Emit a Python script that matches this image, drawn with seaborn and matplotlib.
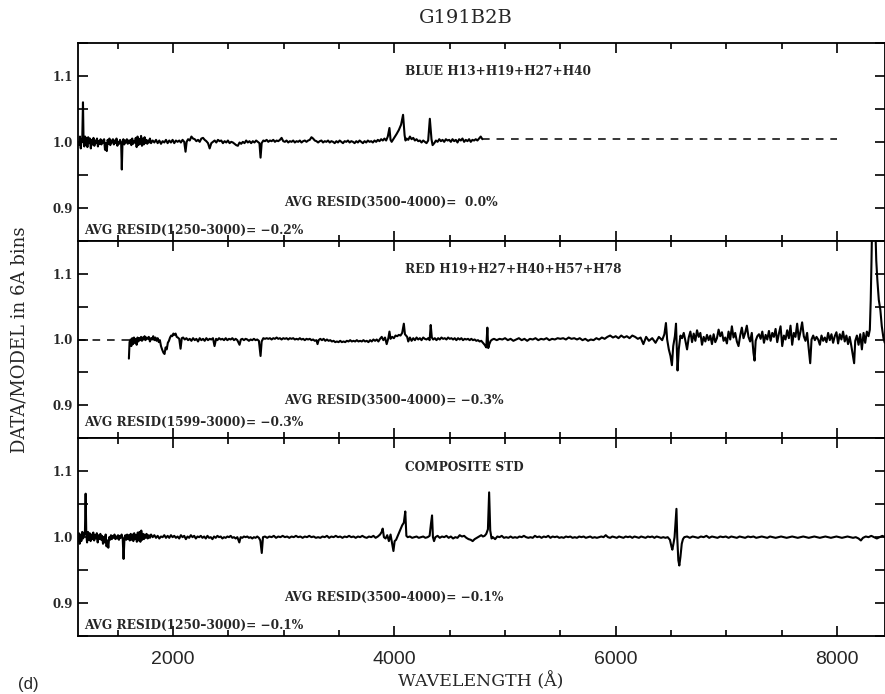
import matplotlib
matplotlib.use("Agg")
import matplotlib.pyplot as plt
from matplotlib.ticker import MultipleLocator, FormatStrFormatter
import pandas as pd
import seaborn as sns

# ---------------------------------------------------------------- data
# BLUE H13+H19+H27+H40 : DATA/MODEL ratio in 6A bins
blue_wave = [
    1150, 1158, 1165, 1172, 1178, 1185, 1190, 1197, 1204, 1211, 1218, 1225, 1232, 1240, 1248, 1256,
    1264, 1272, 1280, 1288, 1296, 1304, 1312, 1320, 1328, 1336, 1344, 1352, 1360, 1368, 1376, 1384,
    1392, 1400, 1408, 1416, 1424, 1432, 1440, 1448, 1456, 1464, 1472, 1480, 1488, 1496, 1504, 1512,
    1520, 1530, 1536, 1542, 1550, 1558, 1566, 1574, 1582, 1590, 1598, 1606, 1614, 1622, 1630, 1638,
    1646, 1654, 1662, 1670, 1678, 1686, 1694, 1702, 1710, 1718, 1726, 1734, 1742, 1750, 1758, 1766,
    1774, 1782, 1790, 1800, 1815, 1830, 1845, 1860, 1875, 1890, 1905, 1920, 1935, 1950, 1965, 1980,
    1995, 2010, 2025, 2040, 2055, 2070, 2085, 2100, 2112, 2122, 2135, 2150, 2165, 2180, 2195, 2210,
    2225, 2240, 2255, 2270, 2285, 2300, 2315, 2330, 2345, 2360, 2375, 2390, 2405, 2420, 2435, 2450,
    2465, 2480, 2495, 2510, 2525, 2540, 2555, 2570, 2585, 2600, 2615, 2630, 2645, 2660, 2675, 2690,
    2705, 2720, 2735, 2750, 2765, 2780, 2790, 2800, 2815, 2830, 2845, 2860, 2875, 2890, 2905, 2920,
    2935, 2950, 2965, 2980, 2995, 3010, 3025, 3040, 3055, 3070, 3085, 3100, 3115, 3130, 3145, 3160,
    3175, 3190, 3205, 3220, 3235, 3250, 3265, 3280, 3295, 3310, 3325, 3340, 3355, 3370, 3385, 3400,
    3415, 3430, 3445, 3460, 3475, 3490, 3505, 3520, 3535, 3550, 3565, 3580, 3595, 3610, 3625, 3640,
    3655, 3670, 3685, 3700, 3715, 3730, 3745, 3760, 3775, 3790, 3805, 3820, 3835, 3850, 3865, 3880,
    3895, 3910, 3925, 3940, 3955, 3965, 3975, 3990, 4005, 4020, 4040, 4060, 4078, 4092, 4100, 4110,
    4125, 4140, 4155, 4170, 4185, 4200, 4215, 4230, 4245, 4260, 4275, 4290, 4305, 4320, 4335, 4345,
    4360, 4375, 4390, 4405, 4420, 4435, 4450, 4465, 4480, 4495, 4510, 4525, 4540, 4555, 4570, 4585,
    4600, 4615, 4630, 4645, 4660, 4675, 4690, 4705, 4720, 4735, 4750, 4765, 4780, 4795,
]
blue_ratio = [
    0.995, 1.008, 0.990, 1.004, 1.000, 1.060, 1.004, 0.993, 1.008, 0.996, 1.006, 0.992, 1.007, 0.998, 1.005, 0.990,
    1.003, 0.996, 1.006, 0.994, 1.002, 0.998, 1.005, 0.993, 1.001, 0.997, 1.004, 0.996, 1.002, 0.999, 1.004, 0.988,
    0.998, 0.986, 1.003, 0.997, 1.005, 0.995, 1.002, 0.999, 1.004, 0.996, 1.002, 0.998, 1.005, 0.994, 1.000, 0.997,
    1.003, 0.998, 0.958, 0.998, 1.004, 0.996, 1.002, 0.999, 1.004, 0.997, 1.002, 0.998, 1.003, 0.995, 1.005, 0.997,
    1.001, 0.999, 1.006, 0.992, 1.008, 0.995, 1.004, 0.997, 1.009, 0.994, 1.005, 0.996, 1.007, 0.998, 1.003, 0.997,
    1.002, 0.999, 1.005, 0.998, 1.002, 0.999, 1.003, 0.998, 1.002, 0.997, 1.001, 0.999, 1.003, 0.998, 1.002, 0.999,
    1.003, 0.998, 1.002, 1.000, 1.002, 0.999, 1.003, 1.000, 0.985, 1.000, 1.004, 1.002, 1.008, 1.005, 1.004, 1.001,
    1.003, 1.000, 1.005, 1.006, 1.003, 1.001, 0.998, 0.990, 0.998, 1.000, 1.002, 0.999, 1.003, 1.001, 1.002, 0.998,
    1.001, 0.999, 1.002, 0.998, 1.000, 0.999, 0.997, 0.995, 0.994, 0.999, 0.997, 1.000, 0.998, 1.002, 0.999, 1.001,
    0.998, 1.001, 0.999, 1.002, 1.000, 0.998, 0.976, 0.998, 1.002, 1.001, 1.003, 1.000, 1.002, 1.001, 1.003, 1.000,
    1.002, 1.001, 1.003, 1.006, 1.001, 1.000, 1.002, 0.999, 1.001, 1.000, 1.002, 0.999, 1.001, 1.000, 1.002, 0.999,
    1.001, 1.002, 1.000, 1.002, 1.003, 1.007, 1.005, 1.002, 1.001, 0.999, 1.001, 1.002, 0.999, 1.001, 1.000, 1.002,
    0.999, 1.001, 1.000, 0.998, 1.001, 0.999, 1.002, 1.000, 0.998, 1.001, 1.000, 1.002, 0.999, 1.001, 1.000, 0.998,
    1.001, 0.999, 1.002, 1.000, 0.998, 1.001, 0.999, 1.002, 1.000, 1.001, 0.999, 1.002, 1.000, 1.003, 1.001, 1.004,
    1.002, 1.005, 1.002, 1.008, 1.021, 1.003, 1.000, 1.004, 1.008, 1.012, 1.018, 1.026, 1.041, 1.010, 1.002, 1.005,
    1.003, 1.008, 1.004, 1.006, 1.002, 1.004, 1.001, 1.002, 0.999, 1.002, 1.000, 0.998, 1.002, 1.035, 1.004, 0.995,
    0.998, 1.002, 1.000, 1.004, 1.001, 1.003, 1.000, 1.004, 1.002, 1.003, 1.000, 1.004, 1.001, 1.003, 0.999, 1.004,
    1.002, 1.005, 1.000, 1.003, 1.001, 1.004, 1.000, 1.003, 1.002, 1.004, 1.002, 1.005, 1.008, 1.004,
]
blue_model_wave = [4795, 8000]
blue_model_ratio = [1.004, 1.004]

# RED H19+H27+H40+H57+H78
red_wave = [
    1600, 1606, 1614, 1622, 1630, 1638, 1646, 1654, 1662, 1670, 1678, 1686, 1694, 1702, 1710, 1718,
    1726, 1734, 1742, 1750, 1760, 1770, 1780, 1790, 1800, 1810, 1820, 1830, 1840, 1850, 1860, 1870,
    1880, 1890, 1900, 1912, 1922, 1932, 1942, 1952, 1962, 1972, 1982, 1992, 2002, 2012, 2022, 2032,
    2042, 2055, 2067, 2078, 2090, 2105, 2120, 2135, 2150, 2165, 2180, 2195, 2210, 2225, 2240, 2255,
    2270, 2285, 2300, 2315, 2330, 2345, 2360, 2374, 2388, 2400, 2415, 2430, 2445, 2460, 2475, 2490,
    2505, 2520, 2535, 2550, 2565, 2580, 2600, 2612, 2625, 2640, 2655, 2670, 2685, 2700, 2715, 2730,
    2745, 2760, 2775, 2790, 2800, 2815, 2830, 2845, 2860, 2875, 2890, 2905, 2920, 2935, 2950, 2965,
    2980, 2995, 3010, 3025, 3040, 3055, 3070, 3085, 3100, 3115, 3130, 3145, 3160, 3175, 3190, 3205,
    3220, 3235, 3250, 3265, 3280, 3295, 3305, 3315, 3330, 3345, 3360, 3375, 3390, 3405, 3420, 3435,
    3450, 3465, 3480, 3495, 3510, 3525, 3540, 3555, 3570, 3585, 3600, 3615, 3630, 3645, 3660, 3675,
    3690, 3705, 3720, 3735, 3750, 3765, 3780, 3795, 3810, 3825, 3840, 3855, 3870, 3885, 3900, 3915,
    3930, 3945, 3955, 3965, 3980, 3995, 4010, 4025, 4040, 4055, 4070, 4085, 4095, 4105, 4115, 4125,
    4140, 4155, 4170, 4185, 4200, 4215, 4230, 4245, 4260, 4275, 4290, 4305, 4318, 4328, 4338, 4350,
    4365, 4380, 4395, 4410, 4425, 4440, 4455, 4470, 4485, 4500, 4515, 4530, 4545, 4560, 4575, 4590,
    4605, 4620, 4635, 4650, 4665, 4680, 4695, 4710, 4725, 4740, 4755, 4770, 4785, 4800, 4815, 4830,
    4840, 4848, 4858, 4870, 4885, 4900, 4925, 4950, 4975, 5000, 5025, 5050, 5075, 5100, 5125, 5150,
    5175, 5200, 5225, 5250, 5275, 5300, 5325, 5350, 5375, 5400, 5425, 5450, 5475, 5500, 5525, 5550,
    5575, 5600, 5625, 5650, 5675, 5700, 5725, 5750, 5775, 5800, 5825, 5850, 5875, 5900, 5925, 5950,
    5975, 6000, 6025, 6050, 6075, 6100, 6125, 6150, 6175, 6200, 6225, 6250, 6275, 6300, 6330, 6360,
    6390, 6420, 6440, 6454, 6465, 6480, 6495, 6508, 6520, 6535, 6545, 6552, 6559, 6570, 6585, 6600,
    6615, 6630, 6645, 6660, 6675, 6690, 6705, 6720, 6735, 6750, 6765, 6780, 6795, 6810, 6825, 6840,
    6855, 6870, 6885, 6900, 6915, 6930, 6945, 6960, 6975, 6990, 7005, 7020, 7035, 7050, 7065, 7080,
    7095, 7110, 7125, 7140, 7155, 7170, 7185, 7200, 7215, 7230, 7245, 7255, 7265, 7280, 7295, 7310,
    7325, 7340, 7355, 7370, 7385, 7400, 7415, 7430, 7445, 7460, 7475, 7490, 7505, 7520, 7535, 7550,
    7565, 7580, 7595, 7610, 7625, 7640, 7655, 7670, 7685, 7700, 7715, 7730, 7745, 7758, 7770, 7785,
    7800, 7815, 7830, 7845, 7860, 7875, 7890, 7905, 7920, 7935, 7950, 7965, 7980, 7995, 8010, 8025,
    8040, 8055, 8070, 8085, 8100, 8115, 8130, 8145, 8155, 8165, 8180, 8195, 8210, 8225, 8240, 8255,
    8270, 8285, 8297, 8305, 8312, 8320, 8335, 8345, 8355, 8365, 8378, 8392, 8405, 8420, 8432,
]
red_ratio = [
    0.971, 0.996, 1.000, 0.990, 1.002, 0.993, 1.003, 0.995, 1.001, 0.992, 1.003, 0.997, 1.002, 0.999, 1.004, 0.998,
    1.003, 1.000, 1.005, 0.999, 1.003, 1.001, 1.004, 0.997, 1.002, 1.000, 1.005, 0.999, 1.003, 0.998, 1.002, 0.996,
    0.999, 0.990, 0.985, 0.980, 0.978, 0.988, 0.985, 0.995, 0.998, 1.003, 1.006, 1.005, 1.009, 1.007, 1.009, 1.004,
    1.003, 1.001, 0.986, 1.002, 1.003, 1.000, 1.002, 0.999, 1.001, 0.998, 1.002, 0.999, 1.001, 0.997, 1.002, 0.999,
    1.001, 0.998, 1.002, 0.999, 1.001, 1.000, 1.002, 0.990, 1.001, 0.999, 1.002, 1.000, 1.001, 0.999, 1.002, 0.999,
    1.001, 1.000, 1.002, 0.999, 1.001, 0.999, 0.992, 1.000, 1.001, 0.999, 1.001, 1.000, 0.998, 1.000, 0.999, 1.001,
    0.999, 1.000, 0.998, 0.975, 0.997, 1.002, 1.001, 1.002, 1.001, 1.002, 1.000, 1.002, 1.001, 1.003, 1.001, 1.002,
    1.000, 1.002, 1.001, 1.002, 1.000, 1.002, 1.001, 1.002, 1.000, 1.001, 1.000, 1.002, 1.000, 1.001, 0.999, 1.001,
    1.000, 1.001, 0.999, 1.000, 0.998, 0.999, 0.993, 0.999, 1.001, 0.999, 1.001, 0.998, 1.000, 0.998, 0.999, 0.997,
    0.998, 0.996, 0.997, 0.996, 0.998, 0.996, 0.997, 0.996, 0.998, 0.997, 0.999, 0.997, 0.998, 0.997, 0.999, 0.997,
    0.998, 0.997, 0.999, 0.997, 0.998, 0.996, 0.999, 0.997, 1.000, 0.998, 1.000, 0.997, 1.001, 1.004, 0.999, 1.003,
    0.993, 1.002, 1.012, 1.001, 1.004, 1.002, 1.006, 1.005, 1.007, 1.006, 1.010, 1.024, 1.008, 1.006, 1.004, 0.997,
    1.003, 0.998, 1.002, 0.999, 1.003, 1.000, 1.002, 0.999, 1.003, 1.001, 1.000, 1.002, 0.999, 1.022, 1.003, 1.000,
    1.002, 0.999, 1.002, 1.000, 1.003, 1.001, 1.002, 1.000, 1.003, 1.001, 1.002, 1.000, 1.002, 0.999, 1.002, 1.000,
    1.002, 0.999, 1.001, 1.000, 1.001, 0.999, 1.001, 0.999, 1.000, 0.998, 0.999, 0.997, 0.998, 0.995, 0.992, 0.988,
    1.018, 0.987, 0.993, 0.998, 1.000, 1.001, 0.999, 1.001, 1.000, 1.002, 0.999, 1.001, 0.998, 1.000, 1.002, 0.999,
    1.001, 0.998, 1.001, 1.000, 1.002, 0.999, 1.001, 1.000, 1.002, 0.999, 1.001, 1.000, 1.002, 1.001, 1.002, 1.000,
    1.003, 1.001, 1.002, 1.000, 1.002, 0.999, 1.001, 0.998, 1.000, 0.999, 1.002, 1.000, 1.003, 1.001, 1.004, 1.006,
    1.003, 1.005, 1.002, 1.006, 1.003, 1.005, 1.002, 1.006, 1.004, 1.001, 1.003, 0.993, 1.004, 0.998, 1.002, 0.995,
    1.004, 0.999, 1.008, 1.025, 1.000, 0.985, 0.975, 0.961, 0.990, 1.005, 1.024, 0.990, 0.953, 0.985, 1.006, 1.002,
    1.010, 0.998, 0.985, 1.003, 1.012, 0.996, 1.009, 0.998, 1.014, 1.004, 1.010, 0.992, 1.004, 0.997, 1.007, 0.999,
    1.006, 0.993, 1.008, 0.996, 1.002, 1.015, 1.005, 1.011, 0.998, 1.003, 0.994, 1.012, 1.000, 1.020, 1.003, 1.010,
    0.997, 0.990, 1.006, 1.018, 1.002, 1.010, 1.021, 1.004, 0.997, 1.010, 0.980, 0.968, 0.998, 1.005, 1.008, 1.001,
    1.012, 0.995, 1.007, 1.000, 1.013, 0.998, 1.010, 1.004, 1.016, 0.996, 1.009, 1.020, 0.990, 1.006, 1.000, 1.014,
    1.002, 1.021, 0.992, 1.010, 1.004, 1.024, 1.000, 1.012, 1.026, 1.005, 0.998, 1.010, 0.985, 0.964, 1.000, 1.006,
    0.999, 1.004, 1.000, 0.992, 1.006, 0.998, 1.003, 0.996, 1.010, 0.999, 1.008, 0.995, 1.005, 1.011, 0.994, 1.008,
    1.000, 1.012, 0.997, 1.006, 0.993, 1.004, 0.990, 0.974, 0.964, 0.998, 1.006, 0.992, 1.008, 0.985, 1.010, 0.995,
    1.012, 1.005, 1.015, 1.060, 1.120, 1.200, 1.210, 1.180, 1.120, 1.090, 1.060, 1.045, 1.020, 1.002, 0.995,
]
red_model_wave = [1140, 1600]
red_model_ratio = [1.000, 1.000]

# COMPOSITE STD
comp_wave = [
    1140, 1148, 1155, 1162, 1170, 1178, 1186, 1195, 1203, 1209, 1215, 1222, 1230, 1238, 1246, 1254,
    1262, 1270, 1278, 1286, 1294, 1302, 1310, 1318, 1326, 1334, 1342, 1350, 1358, 1366, 1374, 1382,
    1390, 1398, 1406, 1414, 1422, 1430, 1438, 1446, 1454, 1462, 1470, 1478, 1486, 1494, 1502, 1510,
    1518, 1526, 1534, 1544, 1552, 1560, 1568, 1576, 1584, 1592, 1600, 1608, 1616, 1624, 1632, 1640,
    1648, 1656, 1664, 1672, 1680, 1688, 1696, 1704, 1712, 1720, 1728, 1736, 1744, 1752, 1760, 1770,
    1780, 1790, 1800, 1815, 1830, 1845, 1860, 1875, 1890, 1905, 1920, 1935, 1950, 1965, 1980, 1995,
    2010, 2025, 2040, 2055, 2070, 2085, 2100, 2115, 2130, 2145, 2160, 2175, 2190, 2205, 2220, 2235,
    2250, 2265, 2280, 2295, 2310, 2325, 2340, 2355, 2370, 2385, 2400, 2415, 2430, 2445, 2460, 2475,
    2490, 2505, 2520, 2535, 2550, 2565, 2580, 2598, 2610, 2625, 2640, 2655, 2670, 2685, 2700, 2715,
    2730, 2745, 2760, 2775, 2788, 2801, 2812, 2830, 2850, 2870, 2890, 2910, 2930, 2950, 2970, 2990,
    3010, 3030, 3050, 3070, 3090, 3110, 3130, 3150, 3170, 3190, 3210, 3230, 3250, 3270, 3290, 3310,
    3330, 3350, 3370, 3390, 3410, 3430, 3450, 3470, 3490, 3510, 3530, 3550, 3570, 3590, 3610, 3630,
    3650, 3670, 3690, 3710, 3730, 3750, 3770, 3790, 3810, 3830, 3850, 3870, 3885, 3894, 3905, 3920,
    3935, 3950, 3965, 3980, 3991, 4002, 4015, 4030, 4050, 4070, 4085, 4098, 4108, 4120, 4140, 4160,
    4180, 4200, 4220, 4240, 4260, 4280, 4300, 4318, 4330, 4340, 4348, 4358, 4370, 4390, 4410, 4430,
    4450, 4470, 4490, 4510, 4530, 4550, 4570, 4590, 4610, 4630, 4650, 4670, 4690, 4707, 4725, 4745,
    4765, 4785, 4800, 4815, 4830, 4845, 4856, 4866, 4878, 4890, 4910, 4930, 4950, 4970, 4990, 5010,
    5030, 5050, 5070, 5090, 5110, 5130, 5150, 5170, 5190, 5210, 5230, 5250, 5270, 5290, 5310, 5330,
    5350, 5370, 5390, 5410, 5430, 5450, 5470, 5490, 5510, 5530, 5550, 5570, 5590, 5610, 5630, 5650,
    5670, 5690, 5710, 5730, 5750, 5770, 5790, 5810, 5830, 5850, 5870, 5890, 5910, 5930, 5950, 5970,
    5990, 6010, 6030, 6050, 6070, 6090, 6110, 6130, 6150, 6170, 6190, 6210, 6230, 6250, 6270, 6290,
    6310, 6330, 6350, 6370, 6390, 6410, 6430, 6450, 6470, 6490, 6505, 6512, 6522, 6532, 6540, 6549,
    6556, 6566, 6575, 6585, 6597, 6608, 6620, 6645, 6670, 6695, 6720, 6745, 6770, 6795, 6820, 6845,
    6870, 6895, 6920, 6945, 6970, 6995, 7020, 7045, 7070, 7095, 7120, 7145, 7170, 7195, 7220, 7245,
    7270, 7295, 7320, 7345, 7370, 7395, 7420, 7445, 7470, 7495, 7520, 7545, 7570, 7595, 7620, 7645,
    7670, 7695, 7720, 7745, 7770, 7795, 7820, 7845, 7870, 7895, 7920, 7945, 7970, 7995, 8020, 8045,
    8070, 8095, 8120, 8145, 8170, 8195, 8216, 8235, 8260, 8285, 8310, 8335, 8360, 8385, 8410, 8435,
]
comp_ratio = [
    0.995, 1.006, 0.990, 1.004, 0.994, 1.008, 0.998, 1.003, 1.010, 1.066, 1.004, 0.992, 1.008, 0.996, 1.006, 0.994,
    1.004, 0.997, 1.007, 0.995, 1.003, 0.998, 1.006, 0.992, 1.003, 0.997, 1.005, 0.996, 1.002, 0.990, 1.000, 0.992,
    1.004, 0.986, 0.995, 0.984, 1.000, 0.996, 1.003, 0.997, 1.002, 0.999, 1.004, 0.997, 1.001, 0.998, 1.003, 0.996,
    1.002, 0.999, 1.004, 0.998, 0.967, 0.998, 1.003, 0.996, 1.004, 0.997, 1.003, 0.995, 1.005, 0.996, 1.004, 0.994,
    1.006, 0.997, 1.003, 0.993, 1.007, 0.995, 1.008, 0.993, 1.010, 0.996, 1.005, 0.997, 1.004, 0.999, 1.005, 0.998,
    1.003, 0.999, 1.004, 1.000, 1.003, 0.999, 1.002, 0.998, 1.001, 1.000, 1.003, 0.999, 1.002, 0.999, 1.003, 1.000,
    1.002, 0.999, 1.001, 0.998, 1.003, 1.000, 1.002, 0.997, 1.001, 0.999, 1.003, 1.000, 1.002, 0.998, 1.001, 1.000,
    1.002, 0.999, 1.001, 0.998, 1.002, 0.999, 1.000, 0.997, 1.001, 0.999, 1.002, 1.000, 1.001, 0.998, 1.000, 0.999,
    1.001, 1.000, 1.002, 0.999, 1.000, 0.998, 1.000, 0.992, 1.000, 0.999, 1.001, 1.000, 1.001, 0.999, 1.000, 0.998,
    1.000, 0.999, 1.001, 0.999, 0.995, 0.976, 1.000, 1.001, 0.999, 1.001, 1.000, 1.002, 0.999, 1.001, 1.000, 1.002,
    1.000, 1.001, 0.999, 1.001, 1.000, 1.002, 1.000, 1.001, 0.999, 1.001, 1.000, 1.002, 1.000, 1.001, 0.999, 1.000,
    0.999, 1.001, 1.000, 1.002, 0.999, 1.001, 1.000, 1.002, 1.000, 1.001, 0.999, 1.001, 1.000, 1.002, 1.000, 1.001,
    0.999, 1.001, 1.000, 1.002, 1.000, 0.999, 1.001, 1.000, 1.002, 0.999, 1.001, 1.004, 1.008, 1.013, 1.000, 0.998,
    1.003, 0.994, 1.004, 0.990, 0.979, 0.994, 0.996, 1.002, 1.010, 1.018, 1.022, 1.039, 1.002, 1.000, 1.001, 0.999,
    1.000, 1.001, 0.999, 1.000, 1.001, 0.999, 1.000, 1.002, 1.020, 1.033, 1.000, 0.994, 1.000, 1.002, 0.999, 1.001,
    1.000, 1.002, 0.999, 1.001, 0.998, 1.000, 0.999, 1.003, 1.001, 1.002, 0.999, 0.997, 0.996, 0.994, 0.997, 0.999,
    1.001, 1.003, 1.001, 1.002, 1.005, 1.012, 1.068, 1.010, 0.998, 1.000, 0.997, 1.001, 1.000, 1.002, 0.999, 1.000,
    0.999, 1.001, 0.999, 1.000, 0.999, 1.001, 1.000, 1.002, 1.000, 0.999, 1.000, 0.999, 1.002, 1.000, 1.001, 0.999,
    1.001, 1.000, 1.002, 0.999, 1.001, 1.000, 1.001, 0.999, 1.000, 0.999, 1.001, 1.000, 1.001, 0.999, 1.000, 0.999,
    1.001, 1.000, 1.001, 0.999, 1.000, 1.001, 0.999, 1.000, 0.999, 1.000, 1.001, 1.000, 1.003, 1.000, 0.999, 1.001,
    1.000, 0.999, 1.001, 1.000, 0.999, 1.001, 1.000, 1.001, 0.999, 1.001, 1.000, 0.999, 1.001, 1.000, 0.999, 1.001,
    1.000, 1.001, 0.999, 1.001, 1.000, 0.999, 1.000, 0.999, 1.000, 0.996, 0.985, 0.981, 0.990, 1.000, 1.020, 1.043,
    1.000, 0.965, 0.957, 0.970, 0.990, 0.997, 1.000, 1.001, 0.999, 1.001, 1.000, 0.999, 1.001, 1.000, 1.002, 0.999,
    1.001, 1.000, 0.999, 1.001, 1.000, 1.001, 0.999, 1.001, 1.000, 0.999, 1.001, 1.000, 0.999, 1.001, 1.000, 1.001,
    0.999, 1.000, 1.001, 1.000, 0.999, 1.001, 1.000, 0.999, 1.000, 1.001, 1.000, 0.999, 1.000, 1.001, 1.000, 0.999,
    1.000, 1.001, 1.000, 0.999, 1.000, 1.001, 1.000, 0.999, 1.000, 1.001, 1.000, 0.999, 1.000, 1.001, 1.000, 0.999,
    1.000, 1.001, 1.000, 0.999, 1.000, 0.998, 0.995, 0.999, 1.001, 1.000, 1.002, 1.000, 0.998, 1.000, 1.002, 1.000,
]

panel_titles = ["BLUE H13+H19+H27+H40", "RED H19+H27+H40+H57+H78", "COMPOSITE STD"]
resid_blue_labels = ["AVG RESID(3500\u20134000)=  0.0%",
                     "AVG RESID(3500\u20134000)= \u22120.3%",
                     "AVG RESID(3500\u20134000)= \u22120.1%"]
resid_uv_labels = ["AVG RESID(1250\u20133000)= \u22120.2%",
                   "AVG RESID(1599\u20133000)= \u22120.3%",
                   "AVG RESID(1250\u20133000)= \u22120.1%"]

# ---------------------------------------------------------------- figure
sns.set_theme(style="ticks")
plt.rcParams["font.family"] = ["DejaVu Serif"]
plt.rcParams["axes.linewidth"] = 1.3

W, H = 885, 694
fig = plt.figure(figsize=(W / 100, H / 100), dpi=100)
ax_left = 78 / W
ax_right = 0.9995
panel_h = (636 - 43) / 3 / H
ax_bottom = 1 - 636 / H

axes = []
for i in range(3):
    y0 = ax_bottom + (2 - i) * panel_h
    ax = fig.add_axes([ax_left, y0, ax_right - ax_left, panel_h])
    axes.append(ax)

series = [
    (blue_wave, blue_ratio, blue_model_wave, blue_model_ratio),
    (red_wave, red_ratio, red_model_wave, red_model_ratio),
    (comp_wave, comp_ratio, None, None),
]

for i, (ax, (w, r, mw, mr)) in enumerate(zip(axes, series)):
    df = pd.DataFrame({"wave": w, "ratio": r})
    sns.lineplot(data=df, x="wave", y="ratio", ax=ax, color="black",
                 linewidth=1.5, estimator=None, sort=False)
    if mw is not None:
        dm = pd.DataFrame({"wave": mw, "ratio": mr})
        sns.lineplot(data=dm, x="wave", y="ratio", ax=ax, color="black",
                     linewidth=1.1, estimator=None, sort=False,
                     dashes=False, linestyle=(0, (5, 4.5)))

    ax.set_xlim(1140, 8430)
    ax.set_ylim(0.85, 1.15)
    ax.xaxis.set_major_locator(MultipleLocator(2000))
    ax.xaxis.set_minor_locator(MultipleLocator(500))
    ax.yaxis.set_major_locator(MultipleLocator(0.1))
    ax.yaxis.set_minor_locator(MultipleLocator(0.05))
    ax.yaxis.set_major_formatter(FormatStrFormatter("%.1f"))
    ax.tick_params(axis="both", which="both", direction="in", top=True, right=True,
                   color="black", width=1.2)
    ax.tick_params(axis="x", which="major", length=7.5)
    ax.tick_params(axis="x", which="minor", length=4.5)
    ax.tick_params(axis="y", which="both", length=7.5)
    ax.tick_params(axis="y", which="major", labelsize=8.5, pad=4)
    for lab in ax.get_yticklabels():
        lab.set_fontweight("bold")
    ax.set_xlabel("")
    ax.set_ylabel("")
    for sp in ax.spines.values():
        sp.set_color("black")
        sp.set_linewidth(1.3)
    if i < 2:
        ax.tick_params(axis="x", labelbottom=False)
    else:
        ax.tick_params(axis="x", which="major", labelsize=14, pad=11)
        for lab in ax.get_xticklabels():
            lab.set_fontfamily("Liberation Sans")

    ax.text(4095, 1.106, panel_titles[i], fontsize=8.7, fontweight="bold",
            ha="left", va="center")
    ax.text(3000, 0.908, resid_blue_labels[i], fontsize=8.7, fontweight="bold",
            ha="left", va="center")
    ax.text(1195, 0.866 if i != 1 else 0.874, resid_uv_labels[i], fontsize=8.7,
            fontweight="bold", ha="left", va="center")

fig.text(466 / W, 1 - 18 / H, "G191B2B", fontsize=14, ha="center", va="center")
fig.text(481 / W, 1 - 681 / H, "WAVELENGTH (\u00c5)", fontsize=12.5,
         ha="center", va="center")
fig.text(20 / W, 1 - 339.5 / H, "DATA/MODEL in 6A bins", fontsize=13,
         rotation=90, ha="center", va="center")
fig.text(18 / W, 1 - 684 / H, "(d)", fontsize=12, ha="left", va="center",
         family="Liberation Sans")

fig.savefig("out.png", dpi=100)
